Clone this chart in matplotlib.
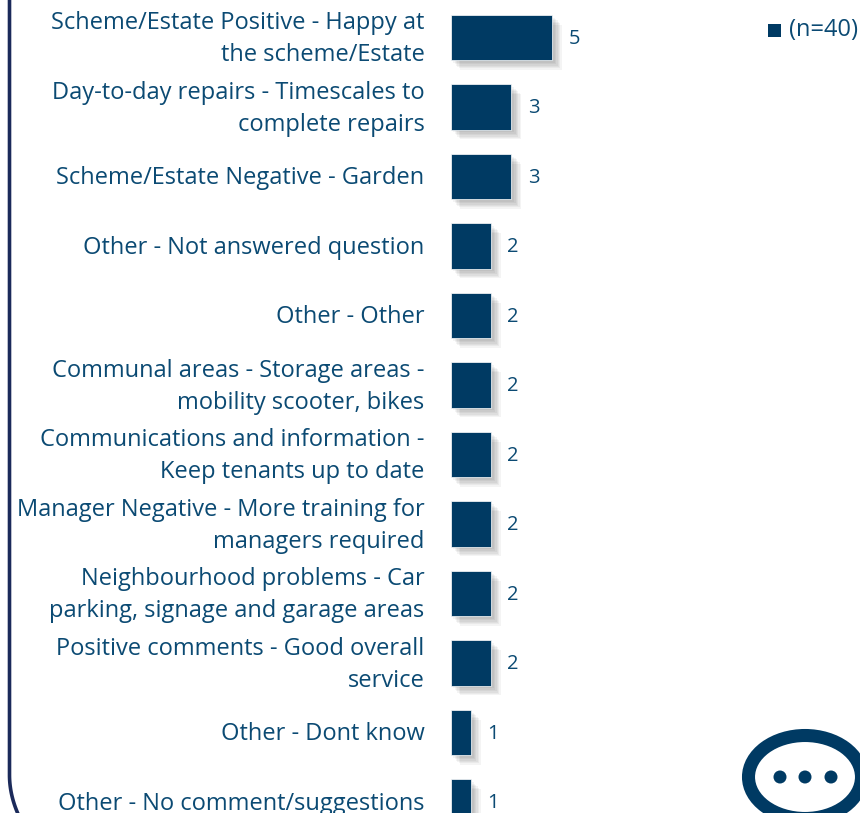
import numpy as np
import matplotlib
matplotlib.use('Agg')
import matplotlib.pyplot as plt
import matplotlib.patheffects as pe
from matplotlib.patches import Ellipse
from matplotlib.transforms import ScaledTranslation

categorias = [
    'Scheme/Estate Positive - Happy at\nthe scheme/Estate',
    'Day-to-day repairs - Timescales to\ncomplete repairs',
    'Scheme/Estate Negative - Garden',
    'Other - Not answered question',
    'Other - Other',
    'Communal areas - Storage areas -\nmobility scooter, bikes',
    'Communications and information -\nKeep tenants up to date',
    'Manager Negative - More training for\nmanagers required',
    'Neighbourhood problems - Car\nparking, signage and garage areas',
    'Positive comments - Good overall\nservice',
    'Other - Dont know',
    'Other - No comment/suggestions',
]
valores = [5, 3, 3, 2, 2, 2, 2, 2, 2, 2, 1, 1]
legenda = '(n=40)'

AZUL = '#003A63'
LARGURA = 860
ALTURA = 813

plt.rcParams['font.family'] = ['Open Sans', 'DejaVu Sans']

fig = plt.figure(figsize=(LARGURA / 100, ALTURA / 100), dpi=100)

# eixo principal vai de cima a baixo, zero das barras em x=451
ax = fig.add_axes([450.5 / LARGURA, 0, (LARGURA - 450.5) / LARGURA, 1])
ax.set_xlim(0, (LARGURA - 450.5) / 20.3)
ax.set_ylim((813 - 37.5) / 69.5, -37.5 / 69.5)

sombras = [pe.SimplePatchShadow(offset=(d, -d), shadow_rgbFace='#000000', alpha=0.045)
           for d in (2, 3, 4, 5, 6, 7)]
pos = np.arange(len(valores))
barras = ax.barh(pos, valores, height=0.65, color=AZUL, edgecolor='white', linewidth=0.5,
                 path_effects=sombras + [pe.Normal()])

ax.set_yticks(pos)
ax.set_yticklabels(categorias, fontsize=17, color='#0B4A73', linespacing=1.43, ha='right', va='center')
ax.tick_params(axis='y', length=0, pad=18.8)
# desce os rotulos um pouco
desce = ScaledTranslation(0, -1.3 / 72, fig.dpi_scale_trans)
for rotulo in ax.get_yticklabels():
    rotulo.set_transform(rotulo.get_transform() + desce)
ax.set_xticks([])
for lado in ax.spines.values():
    lado.set_visible(False)

for b, v in zip(barras, valores):
    ax.annotate(str(v), (v, b.get_y() + b.get_height() / 2), xytext=(11.8, -1),
                textcoords='offset points', va='center', ha='left',
                fontsize=14.5, color='#0B4A73')

# camada em pixels para moldura, legenda e icone
over = fig.add_axes([0, 0, 1, 1], zorder=5)
over.set_xlim(0, LARGURA)
over.set_ylim(ALTURA, 0)
over.axis('off')
over.patch.set_alpha(0)

# moldura da esquerda, so curva embaixo
t = np.linspace(0, 1, 40)
borda_x = np.concatenate([[9.5], 9.5 + 9 * t ** 2])
borda_y = np.concatenate([[-2], 775 + 40 * t])
over.plot(borda_x, borda_y, color='#1B2A5A', lw=2.6, solid_capstyle='butt')

# legenda
over.add_patch(plt.Rectangle((768, 24), 13, 13, color=AZUL, lw=0))
over.text(789, 30, legenda, fontsize=17, color='#0B4A73', va='center', ha='left')

# icone de balao
over.add_patch(Ellipse((805, 777), 113, 83, facecolor='white', edgecolor=AZUL, lw=9.4))
for cx in (780, 805, 831):
    over.add_patch(Ellipse((cx, 777), 13, 13, color=AZUL, lw=0))

fig.savefig('out.png', dpi=100)
